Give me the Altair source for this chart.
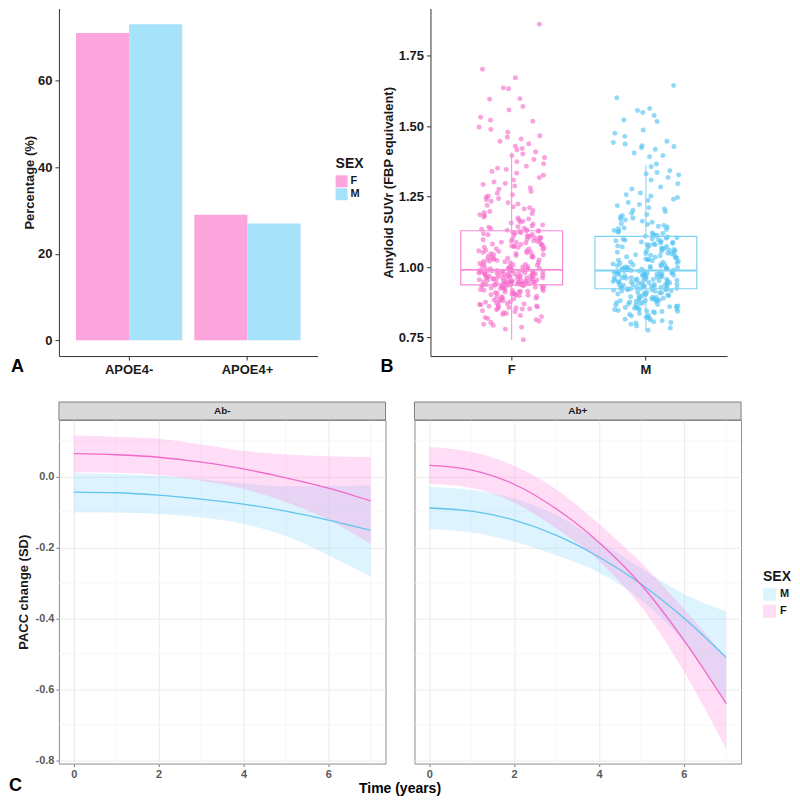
import altair as alt
import pandas as pd

FONT = "Liberation Sans"

# ---------------- Panel A : APOE4 status by sex ----------------
apoe_groups = ["APOE4-", "APOE4-", "APOE4+", "APOE4+"]
apoe_sex = ["F", "M", "F", "M"]
apoe_pct = [71.0, 73.0, 29.0, 27.0]

# ---------------- Panel B : amyloid SUVr by sex ----------------
suvr_f = [
    1.862, 1.702, 1.672, 1.636, 1.633, 1.598, 1.596, 1.570, 1.558, 1.532,
    1.521, 1.518, 1.497, 1.488, 1.479, 1.466, 1.461, 1.455, 1.447, 1.438,
    1.429, 1.421, 1.416, 1.409, 1.401, 1.396, 1.389, 1.382, 1.374, 1.367,
    1.358, 1.351, 1.346, 1.339, 1.333, 1.326, 1.318, 1.309, 1.302, 1.297,
    1.293, 1.288, 1.281, 1.276, 1.268, 1.262, 1.257, 1.252, 1.248, 1.243,
    1.239, 1.234, 1.228, 1.224, 1.219, 1.214, 1.211, 1.206, 1.201, 1.197,
    1.193, 1.189, 1.186, 1.182, 1.178, 1.174, 1.171, 1.167, 1.163, 1.159,
    1.156, 1.153, 1.149, 1.146, 1.143, 1.141, 1.138, 1.136, 1.134, 1.132,
    1.131, 1.129, 1.128, 1.127, 1.126,
    1.124, 1.122, 1.119, 1.118, 1.116, 1.115, 1.112, 1.111, 1.109, 1.108,
    1.105, 1.104, 1.103, 1.100, 1.099, 1.097, 1.096, 1.093, 1.092, 1.091,
    1.088, 1.087, 1.086, 1.083, 1.082, 1.080, 1.079, 1.077, 1.075, 1.074,
    1.072, 1.070, 1.069, 1.068, 1.065, 1.064, 1.062, 1.060, 1.058, 1.057,
    1.055, 1.053, 1.052, 1.051, 1.048, 1.047, 1.045, 1.044, 1.041, 1.040,
    1.038, 1.036, 1.035, 1.034, 1.031, 1.030, 1.028, 1.027, 1.025, 1.023,
    1.021, 1.020, 1.019, 1.016, 1.015, 1.013, 1.012, 1.009, 1.008, 1.006,
    1.005, 1.003, 1.001, 1.000, 0.998, 0.997, 0.996, 0.995, 0.994, 0.993,
    0.992, 0.991, 0.990,
    0.989, 0.989, 0.988, 0.987, 0.986, 0.986, 0.985, 0.984, 0.984, 0.983,
    0.982, 0.982, 0.981, 0.980, 0.979, 0.979, 0.978, 0.977, 0.977, 0.976,
    0.975, 0.974, 0.974, 0.973, 0.972, 0.971, 0.971, 0.970, 0.969, 0.968,
    0.968, 0.967, 0.966, 0.966, 0.965, 0.964, 0.963, 0.962, 0.962, 0.961,
    0.960, 0.959, 0.959, 0.958, 0.957, 0.956, 0.956, 0.955, 0.954, 0.953,
    0.953, 0.952, 0.951, 0.950, 0.950, 0.949, 0.948, 0.947, 0.947, 0.946,
    0.945, 0.945, 0.944, 0.943, 0.943, 0.942, 0.941, 0.941, 0.940, 0.940,
    0.939, 0.939, 0.938, 0.938, 0.937, 0.937, 0.936, 0.936, 0.936, 0.935,
    0.935, 0.935, 0.934,
    0.933, 0.932, 0.931, 0.929, 0.928, 0.927, 0.926, 0.924, 0.923, 0.922,
    0.921, 0.919, 0.918, 0.917, 0.916, 0.914, 0.913, 0.912, 0.911, 0.909,
    0.908, 0.907, 0.906, 0.904, 0.903, 0.902, 0.901, 0.900, 0.898, 0.896,
    0.894, 0.893, 0.891, 0.889, 0.887, 0.885, 0.883, 0.881, 0.879, 0.877,
    0.875, 0.873, 0.871, 0.869, 0.867, 0.866, 0.864, 0.862, 0.861, 0.859,
    0.858, 0.856, 0.855, 0.853, 0.852, 0.851, 0.848, 0.845, 0.842, 0.838,
    0.835, 0.832, 0.828, 0.824, 0.821, 0.817, 0.813, 0.808, 0.803, 0.797,
    0.793, 0.786, 0.779, 0.742,
]
suvr_m = [
    1.645, 1.601, 1.563, 1.556, 1.549, 1.538, 1.522, 1.517, 1.487, 1.475,
    1.464, 1.447, 1.442, 1.437, 1.431, 1.428, 1.424, 1.418, 1.405, 1.396,
    1.392, 1.366, 1.356, 1.342, 1.336, 1.331, 1.327, 1.318, 1.309, 1.296,
    1.284, 1.277, 1.263, 1.257, 1.252, 1.247, 1.241, 1.236, 1.229, 1.222,
    1.218, 1.211, 1.206, 1.202, 1.196, 1.191, 1.187, 1.183, 1.178, 1.174,
    1.171, 1.167, 1.163, 1.159, 1.155, 1.151, 1.148, 1.145, 1.142, 1.139,
    1.136, 1.133, 1.130, 1.127, 1.124, 1.121, 1.119, 1.116, 1.113, 1.111,
    1.109, 1.107,
    1.104, 1.102, 1.100, 1.099, 1.097, 1.095, 1.093, 1.091, 1.089, 1.088,
    1.086, 1.084, 1.082, 1.080, 1.079, 1.077, 1.075, 1.073, 1.071, 1.069,
    1.068, 1.066, 1.064, 1.062, 1.060, 1.058, 1.057, 1.055, 1.053, 1.051,
    1.049, 1.048, 1.046, 1.044, 1.042, 1.040, 1.038, 1.037, 1.035, 1.033,
    1.031, 1.029, 1.027, 1.026, 1.024, 1.022, 1.020, 1.018, 1.017, 1.015,
    1.013, 1.011, 1.010, 1.008, 1.006, 1.005, 1.003, 1.002, 1.000, 0.999,
    0.998, 0.997, 0.996, 0.995, 0.994, 0.993, 0.993, 0.992, 0.991, 0.990,
    0.990, 0.989,
    0.988, 0.987, 0.986, 0.985, 0.984, 0.983, 0.982, 0.981, 0.980, 0.979,
    0.978, 0.977, 0.976, 0.975, 0.974, 0.973, 0.972, 0.971, 0.970, 0.969,
    0.968, 0.967, 0.966, 0.965, 0.964, 0.963, 0.962, 0.961, 0.960, 0.959,
    0.958, 0.957, 0.956, 0.955, 0.954, 0.953, 0.952, 0.951, 0.950, 0.949,
    0.948, 0.947, 0.946, 0.945, 0.944, 0.943, 0.942, 0.941, 0.940, 0.939,
    0.938, 0.937, 0.936, 0.935, 0.934, 0.933, 0.932, 0.931, 0.930, 0.929,
    0.928, 0.927, 0.926, 0.925, 0.924, 0.923, 0.922, 0.921, 0.920, 0.920,
    0.919, 0.918, 0.916, 0.915, 0.914, 0.912, 0.911, 0.909, 0.908, 0.907,
    0.905, 0.904, 0.902, 0.901, 0.899, 0.898, 0.896, 0.895, 0.893, 0.892,
    0.890, 0.889, 0.887, 0.886, 0.884, 0.883, 0.882, 0.881, 0.880, 0.879,
    0.878, 0.876, 0.874, 0.873, 0.871, 0.869, 0.867, 0.866, 0.864, 0.862,
    0.861, 0.859, 0.857, 0.856, 0.854, 0.853, 0.851, 0.849, 0.848, 0.846,
    0.845, 0.843, 0.842, 0.841, 0.838, 0.835, 0.832, 0.829, 0.826, 0.823,
    0.821, 0.818, 0.815, 0.812, 0.809, 0.806, 0.803, 0.801, 0.797, 0.791,
    0.784, 0.776,
]
box_sex = ["F", "M"]
box_lo = [0.742, 0.773]
box_q1 = [0.937, 0.923]
box_med = [0.990, 0.988]
box_q3 = [1.129, 1.109]
box_hi = [1.406, 1.363]

# ---------------- Panel C : PACC change over time ----------------
years = [0, 1, 2, 3, 4, 5, 6, 7]
neg_f_mean = [0.064, 0.061, 0.054, 0.040, 0.021, -0.004, -0.033, -0.069]
neg_f_lo = [0.011, 0.010, 0.004, -0.012, -0.035, -0.072, -0.122, -0.190]
neg_f_hi = [0.115, 0.112, 0.106, 0.090, 0.072, 0.062, 0.057, 0.055]
neg_m_mean = [-0.044, -0.046, -0.053, -0.064, -0.078, -0.098, -0.123, -0.152]
neg_m_lo = [-0.101, -0.102, -0.106, -0.116, -0.134, -0.168, -0.222, -0.282]
neg_m_hi = [0.008, 0.007, 0.002, -0.008, -0.020, -0.028, -0.027, -0.025]
pos_f_mean = [0.031, 0.018, -0.022, -0.092, -0.186, -0.306, -0.461, -0.640]
pos_f_lo = [-0.021, -0.033, -0.074, -0.147, -0.238, -0.368, -0.549, -0.768]
pos_f_hi = [0.083, 0.069, 0.030, -0.037, -0.134, -0.244, -0.373, -0.512]
pos_m_mean = [-0.089, -0.098, -0.123, -0.166, -0.227, -0.304, -0.399, -0.510]
pos_m_lo = [-0.148, -0.158, -0.184, -0.223, -0.271, -0.349, -0.467, -0.640]
pos_m_hi = [-0.030, -0.038, -0.062, -0.109, -0.183, -0.259, -0.331, -0.380]
minor_x = [1, 3, 5, 7]
minor_y = [0.1, -0.1, -0.3, -0.5, -0.7]

# ---------------- styling ----------------
PINK_BAR, BLUE_BAR = "#FCA5DD", "#A6E2FA"
PINK_PT, BLUE_PT = "#F56BCB", "#4FC2F2"
PINK_BOX, BLUE_BOX = "#F78BD8", "#7DD3F6"
PINK_LINE, BLUE_LINE = "#F069C9", "#62C5EE"
PINK_BAND, BLUE_BAND = "#FF8FE0", "#8FD8F8"

axis_dark = dict(domainColor="#333333", tickColor="#333333", labelColor="#1a1a1a",
                 titleColor="#1a1a1a", labelFont=FONT, titleFont=FONT,
                 labelFontWeight="bold", titleFontWeight="bold", labelFontSize=13,
                 titleFontSize=13, tickSize=4, domainWidth=1, tickWidth=1, grid=False)


def letter(txt, x, y):
    return alt.Chart(pd.DataFrame({"lab": [txt]})).mark_text(
        align="left", baseline="top", fontSize=18, fontWeight="bold", font=FONT, color="black"
    ).encode(x=alt.value(x), y=alt.value(y), text="lab:N")


# ---------------- A ----------------
A_W, A_H = 259, 348
dfA = pd.DataFrame({"apoe": apoe_groups, "sex": apoe_sex, "pct": apoe_pct})
barsA = alt.Chart(dfA).mark_bar().encode(
    x=alt.X("apoe:N", sort=["APOE4-", "APOE4+"],
            scale=alt.Scale(paddingInner=0.102, paddingOuter=0.144),
            axis=alt.Axis(title=None, labelAngle=0, labelPadding=3, **axis_dark)),
    xOffset=alt.XOffset("sex:N", sort=["F", "M"], scale=alt.Scale(paddingInner=0, paddingOuter=0)),
    y=alt.Y("pct:Q", stack=None, scale=alt.Scale(domain=[-3.65, 76.65], nice=False, zero=False),
            axis=alt.Axis(values=[0, 20, 40, 60], title="Percentage (%)", titlePadding=1,
                          labelPadding=3, **axis_dark)),
    y2=alt.datum(0),
    color=alt.Color("sex:N", scale=alt.Scale(domain=["F", "M"], range=[PINK_BAR, BLUE_BAR]),
                    legend=alt.Legend(orient="none", legendX=277, legendY=149, title="SEX",
                                      titleFont=FONT, titleFontSize=14, titleFontWeight="bold",
                                      titleColor="#1a1a1a", titlePadding=4, labelFont=FONT,
                                      labelFontSize=11, labelFontWeight="bold",
                                      labelColor="#1a1a1a", symbolType="square", symbolSize=144,
                                      symbolStrokeWidth=0, rowPadding=1, labelOffset=3)),
)
chartA = alt.layer(barsA, letter("A", -48, A_H + 2)).properties(width=A_W, height=A_H)

# ---------------- B ----------------
B_W, B_H = 297, 348
xB = alt.X("sex:N", scale=alt.Scale(domain=["F", "M"], paddingInner=0.51, paddingOuter=0.36),
           axis=alt.Axis(title=None, labelAngle=0, labelPadding=3, **axis_dark))
yscaleB = alt.Scale(domain=[0.684, 1.918], nice=False, zero=False)
yaxisB = alt.Axis(values=[0.75, 1.0, 1.25, 1.5, 1.75], format=".2f",
                  title="Amyloid SUVr (FBP equivalent)", titlePadding=3, labelPadding=3, **axis_dark)

layersB = []
boxB = pd.DataFrame({"sex": box_sex, "lo": box_lo, "q1": box_q1, "med": box_med,
                     "q3": box_q3, "hi": box_hi})
for sex, vals, cpt in [("F", suvr_f, PINK_PT), ("M", suvr_m, BLUE_PT)]:
    dfp = pd.DataFrame({"sex": sex, "suvr": vals})
    layersB.append(
        alt.Chart(dfp).transform_window(idx="row_number()")
        .transform_calculate(jit="abs(sin(datum.idx * 12.9898) * 43758.5453) % 1")
        .mark_circle(size=25, opacity=0.62, color=cpt)
        .encode(x=xB, xOffset=alt.XOffset("jit:Q", scale=alt.Scale(domain=[0, 1])),
                y=alt.Y("suvr:Q", scale=yscaleB, axis=yaxisB))
    )
for sex, cbox in [("F", PINK_BOX), ("M", BLUE_BOX)]:
    d = boxB[boxB.sex == sex]
    base = alt.Chart(d)
    layersB.append(base.mark_rule(color=cbox, strokeWidth=1).encode(
        x=xB, y=alt.Y("lo:Q", scale=yscaleB, axis=yaxisB), y2="q1:Q"))
    layersB.append(base.mark_rule(color=cbox, strokeWidth=1).encode(
        x=xB, y=alt.Y("q3:Q", scale=yscaleB, axis=yaxisB), y2="hi:Q"))
    layersB.append(base.mark_bar(size=102, fillOpacity=0, stroke=cbox, strokeWidth=1.2).encode(
        x=xB, y=alt.Y("q1:Q", scale=yscaleB, axis=yaxisB), y2="q3:Q"))
    layersB.append(base.mark_tick(size=102, thickness=2, color=cbox, opacity=1).encode(
        x=xB, y=alt.Y("med:Q", scale=yscaleB, axis=yaxisB)))
layersB.append(letter("B", -50, B_H + 2))
chartB = alt.layer(*layersB).properties(width=B_W, height=B_H)

top = alt.hconcat(chartA, chartB, spacing=113, bounds="flush")

# ---------------- C ----------------
P_W, P_H = 327, 344
rows = []
for panel, sex, m, lo, hi in [
    ("Ab-", "M", neg_m_mean, neg_m_lo, neg_m_hi), ("Ab-", "F", neg_f_mean, neg_f_lo, neg_f_hi),
    ("Ab+", "M", pos_m_mean, pos_m_lo, pos_m_hi), ("Ab+", "F", pos_f_mean, pos_f_lo, pos_f_hi),
]:
    for t, a, b, c in zip(years, m, lo, hi):
        rows.append({"panel": panel, "sex": sex, "t": t, "mean": a, "lo": b, "hi": c})
dfC = pd.DataFrame(rows)

xscaleC = alt.Scale(domain=[-0.35, 7.35], nice=False, zero=False)
yscaleC = alt.Scale(domain=[-0.809, 0.159], nice=False, zero=False)
axis_gray = dict(labelFont=FONT, labelFontSize=11, labelFontWeight="bold", labelColor="#5a5a5a",
                 tickColor="#7f7f7f", tickSize=3, domain=False, gridColor="#EBEBEB", gridWidth=1)
LABEL_EXPR = "datum.value < 0 ? '-' + format(-datum.value, '.1f') : format(datum.value, '.1f')"


def xaxisC():
    return alt.Axis(values=[0, 2, 4, 6], title=None, grid=True, labelPadding=2, **axis_gray)


def yaxisC(show):
    if show:
        return alt.Axis(values=[0, -0.2, -0.4, -0.6, -0.8], title="PACC change (SD)", titleFont=FONT,
                        titleFontSize=13, titleFontWeight="bold", titleColor="#1a1a1a",
                        titlePadding=5, labelPadding=2, labelExpr=LABEL_EXPR, grid=True, **axis_gray)
    return alt.Axis(values=[0, -0.2, -0.4, -0.6, -0.8], title=None, labels=False, ticks=False,
                    grid=True, **axis_gray)


sex_domain = ["M", "F"]
LEG_X, LEG_Y = 705, 562
fill_legend = alt.Legend(orient="none", legendX=LEG_X, legendY=LEG_Y, title="SEX", titleFont=FONT,
                         titleFontSize=14, titleFontWeight="bold", titleColor="#1a1a1a",
                         titlePadding=4, labelFont=FONT, labelFontSize=11, labelFontWeight="bold",
                         labelColor="#1a1a1a", symbolType="square", symbolSize=169,
                         symbolOpacity=0.3, symbolStrokeWidth=0, rowPadding=4, labelOffset=4)
stroke_legend = alt.Legend(orient="none", legendX=LEG_X, legendY=LEG_Y, title="SEX", titleFont=FONT,
                           titleFontSize=14, titleFontWeight="bold", titleColor="transparent",
                           titlePadding=4, labelFont=FONT, labelFontSize=11, labelFontWeight="bold",
                           labelColor="#1a1a1a", symbolType="stroke", symbolSize=169,
                           symbolStrokeWidth=1.5, rowPadding=4, labelOffset=4)


def panel(name, show_y):
    d = dfC[dfC.panel == name]
    layers = [
        alt.Chart(pd.DataFrame({"v": minor_x})).mark_rule(color="#F4F4F4", strokeWidth=0.7).encode(
            x=alt.X("v:Q", scale=xscaleC, axis=xaxisC())),
        alt.Chart(pd.DataFrame({"v": minor_y})).mark_rule(color="#F4F4F4", strokeWidth=0.7).encode(
            y=alt.Y("v:Q", scale=yscaleC, axis=yaxisC(show_y))),
        alt.Chart(d).mark_area(opacity=0.3, interpolate="monotone").encode(
            x=alt.X("t:Q", scale=xscaleC, axis=xaxisC()),
            y=alt.Y("lo:Q", scale=yscaleC, axis=yaxisC(show_y)), y2="hi:Q",
            fill=alt.Fill("sex:N", scale=alt.Scale(domain=sex_domain, range=[BLUE_BAND, PINK_BAND]),
                          legend=fill_legend)),
        alt.Chart(d).mark_line(strokeWidth=1.3, interpolate="monotone").encode(
            x=alt.X("t:Q", scale=xscaleC, axis=xaxisC()),
            y=alt.Y("mean:Q", scale=yscaleC, axis=yaxisC(show_y)),
            stroke=alt.Stroke("sex:N", scale=alt.Scale(domain=sex_domain, range=[BLUE_LINE, PINK_LINE]),
                              legend=stroke_legend)),
        alt.Chart(pd.DataFrame({"lab": [name]})).mark_rect(
            fill="#D9D9D9", stroke="#7F7F7F", strokeWidth=1).encode(
            x=alt.value(0), x2=alt.value(P_W), y=alt.value(-18), y2=alt.value(0)),
        alt.Chart(pd.DataFrame({"lab": [name]})).mark_text(
            fontSize=10, fontWeight="bold", font=FONT, color="#1a1a1a").encode(
            x=alt.value(P_W / 2), y=alt.value(-9), text="lab:N"),
    ]
    if show_y:
        layers.append(letter("C", -50, P_H + 13))
        layers.append(alt.Chart(pd.DataFrame({"lab": ["Time (years)"]})).mark_text(
            fontSize=14, fontWeight="bold", font=FONT, color="black", baseline="middle").encode(
            x=alt.value(P_W + 14.5), y=alt.value(P_H + 25), text="lab:N"))
    return alt.layer(*layers).properties(
        width=P_W, height=P_H, view=alt.ViewBackground(stroke="#8C8C8C", strokeWidth=1))


bottom = alt.hconcat(panel("Ab-", True), panel("Ab+", False), spacing=29, bounds="flush")

chart = alt.vconcat(top, bottom, spacing=25).properties(padding=0).configure_view(stroke=None)

chart.save("out.html", embed_options={"renderer": "svg", "actions": False})
